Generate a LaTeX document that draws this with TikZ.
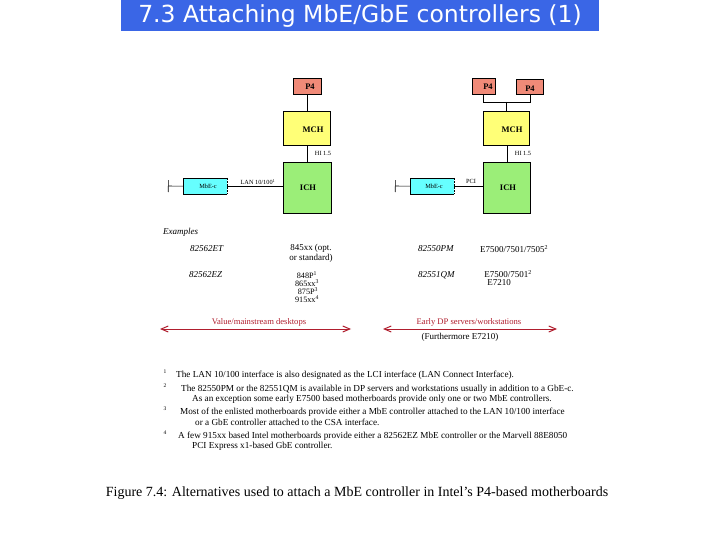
\documentclass[tikz,border=0pt]{standalone}
\usepackage{fontspec}
\setmainfont{Liberation Serif}
\newfontfamily\titlefont{DejaVu Sans}
\usetikzlibrary{arrows.meta}
\definecolor{titleblue}{HTML}{3A66E6}
\definecolor{pfour}{HTML}{F08A78}
\definecolor{mchyel}{HTML}{FFFF77}
\definecolor{ichgreen}{HTML}{9BEE78}
\definecolor{mbecyan}{HTML}{66FFFF}
\definecolor{darkred}{HTML}{B01E2E}
\tikzset{
  box/.style={draw=black, line width=0.5pt, inner sep=0pt, anchor=north west},
  boxtxt/.style={font=\fontsize{8.5}{9}\selectfont\bfseries, inner sep=0pt},
  tiny/.style={font=\fontsize{6.3}{7}\selectfont, inner sep=0pt},
  ex/.style={font=\fontsize{9}{10}\selectfont, inner sep=0pt},
  exs/.style={font=\fontsize{8.2}{8}\selectfont, inner sep=0pt},
  exi/.style={font=\fontsize{9}{10}\selectfont\itshape, inner sep=0pt, anchor=west},
  fn/.style={font=\fontsize{9.2}{10}\selectfont, inner sep=0pt, anchor=west},
  fnm/.style={font=\fontsize{5.5}{6}\selectfont, inner sep=0pt},
  wire/.style={line width=0.6pt},
  redarrow/.style={darkred, line width=1pt, {Straight Barb[length=7pt,width=6pt]}-{Straight Barb[length=7pt,width=6pt]}},
  redtxt/.style={darkred, font=\fontsize{8.6}{10}\selectfont, inner sep=0pt}
}
\begin{document}
\begin{tikzpicture}[x=1pt,y=-1pt]
\useasboundingbox[fill=white] (0,0) rectangle (720,540);
% title
\node[fill=titleblue, minimum width=478pt, minimum height=31pt, anchor=north west, inner sep=0pt] (tbar) at (121,0) {};
\node[text=white, font=\titlefont\fontsize{23.5}{26}\selectfont, inner sep=0pt] (title) at (360,16) {7.3 Attaching MbE/GbE controllers (1)};

% ---------- left diagram
\node[box, fill=pfour, minimum width=28pt, minimum height=16pt] (p4l) at (293,78) {};
\node[boxtxt] (p4lt) at (310,87) {P4};
\node[box, fill=mchyel, minimum width=47pt, minimum height=34pt] (mchl) at (283,111) {};
\node[boxtxt] (mchlt) at (313,130) {MCH};
\node[box, fill=ichgreen, minimum width=48pt, minimum height=51pt] (ichl) at (283,162) {};
\node[boxtxt] (ichlt) at (308,188) {ICH};
\node[fill=mbecyan, minimum width=44pt, minimum height=16pt, inner sep=0pt, anchor=north west] (mbel) at (183,178) {};
\draw[line width=0.5pt] (mbel.north east) -- (mbel.north west) -- (mbel.south west) -- (mbel.south east);
\draw[line width=0.5pt, densely dotted] (mbel.north east) -- (mbel.south east);
\node[tiny] (mbelt) at (208,186) {MbE-c};
\coordinate (endl) at (168,186);
\draw[wire] (p4l.south -| 307,0) -- (mchl.north -| 307,0);
\draw[wire] (mchl.south -| 307,0) -- (ichl.north -| 307,0);
\draw[wire] (mbel.east) -- (ichl.west |- mbel.east);
\draw[wire, {Bar[width=12pt]}-] (endl) -- (mbel.west);
\node[tiny] (hil) at (323,153) {HI 1.5};
\node[tiny] (lanl) at (258,182) {LAN 10/100\textsuperscript{1}};

% ---------- right diagram
\node[box, fill=pfour, minimum width=23pt, minimum height=16pt] (p4ra) at (472,78) {};
\node[boxtxt] (p4rat) at (488,87) {P4};
\node[box, fill=pfour, minimum width=27pt, minimum height=15pt] (p4rb) at (516,79) {};
\node[boxtxt] (p4rbt) at (530,89) {P4};
\node[box, fill=mchyel, minimum width=46pt, minimum height=34pt] (mchr) at (483,111) {};
\node[boxtxt] (mchrt) at (512,130) {MCH};
\node[box, fill=ichgreen, minimum width=47pt, minimum height=51pt] (ichr) at (483,162) {};
\node[boxtxt] (ichrt) at (508,188) {ICH};
\node[fill=mbecyan, minimum width=44pt, minimum height=16pt, inner sep=0pt, anchor=north west] (mber) at (410,178) {};
\draw[line width=0.5pt] (mber.north east) -- (mber.north west) -- (mber.south west) -- (mber.south east);
\draw[line width=0.5pt, densely dotted] (mber.north east) -- (mber.south east);
\node[tiny] (mbert) at (434,186) {MbE-c};
\coordinate (endr) at (395,186);
\coordinate (busl) at (483,102);
\coordinate (busr) at (530,102);
\coordinate (busm) at (506,102);
\draw[wire] (p4ra.south -| busl) -- (busl) -- (busr) -- (p4rb.south -| busr);
\draw[wire] (busm) -- (mchr.north -| busm);
\draw[wire] (mchr.south -| 507,0) -- (ichr.north -| 507,0);
\draw[wire] (mber.east) -- (ichr.west |- mber.east);
\draw[wire, {Bar[width=12pt]}-] (endr) -- (mber.west);
\node[tiny] (hir) at (523,153) {HI 1.5};
\node[tiny] (pcir) at (471,181) {PCI};

% ---------- examples
\node[exi] (exs) at (163,232) {Examples};
\node[exi] (e1) at (190,249) {82562ET};
\node[ex, align=center] (c1) at (311,253) {845xx (opt.\\or standard)};
\node[exi] (e2) at (189,275) {82562EZ};
\node[exs] (c2a) at (307,275) {848P\textsuperscript{1}};
\node[exs] (c2b) at (307,283) {865xx\textsuperscript{3}};
\node[exs] (c2c) at (308,291) {875P\textsuperscript{3}};
\node[exs] (c2d) at (307,299) {915xx\textsuperscript{4}};
\node[exi] (e3) at (418,249) {82550PM};
\node[ex] (c3) at (514,249) {E7500/7501/7505\textsuperscript{2}};
\node[exi] (e4) at (418,275) {82551QM};
\node[ex] (c4a) at (508,274) {E7500/7501\textsuperscript{2}};
\node[ex] (c4b) at (499,283) {E7210};

\coordinate (al1) at (160,329);
\coordinate (al2) at (351,329);
\coordinate (ar1) at (383,329);
\coordinate (ar2) at (557,329);
\draw[redarrow] (al1) -- (al2);
\draw[redarrow] (ar1) -- (ar2);
\node[redtxt] (vl) at (259,322) {Value/mainstream desktops};
\node[redtxt] (vr) at (469,322) {Early DP servers/workstations};
\node[ex] (fm) at (460,337) {(Furthermore E7210)};

% ---------- footnotes
\node[fnm] (m1) at (165,372) {1};
\node[fn] (f1) at (176,375) {The LAN 10/100 interface is also designated as the LCI interface (LAN Connect Interface).};
\node[fnm] (m2) at (165,386) {2};
\node[fn] (f2) at (181,389) {The 82550PM or the 82551QM is available in DP servers and workstations usually in addition to a GbE-c.};
\node[fn] (f2b) at (192,399) {As an exception some early E7500 based motherboards provide only one or two MbE controllers.};
\node[fnm] (m3) at (165,409) {3};
\node[fn] (f3) at (180,412) {Most of the enlisted motherboards provide either a MbE controller attached to the LAN 10/100 interface};
\node[fn] (f3b) at (195,422) {or a GbE controller attached to the CSA interface.};
\node[fnm] (m4) at (165,433) {4};
\node[fn] (f4) at (178,436) {A few 915xx based Intel motherboards provide either a 82562EZ MbE controller or the Marvell 88E8050};
\node[fn] (f4b) at (192,446) {PCI Express x1-based GbE controller.};

% caption
\node[font=\fontsize{14}{16}\selectfont, inner sep=0pt] (cap) at (357,493) {Figure 7.4: Alternatives used to attach a MbE controller in Intel's P4-based motherboards};
\end{tikzpicture}
\end{document}
